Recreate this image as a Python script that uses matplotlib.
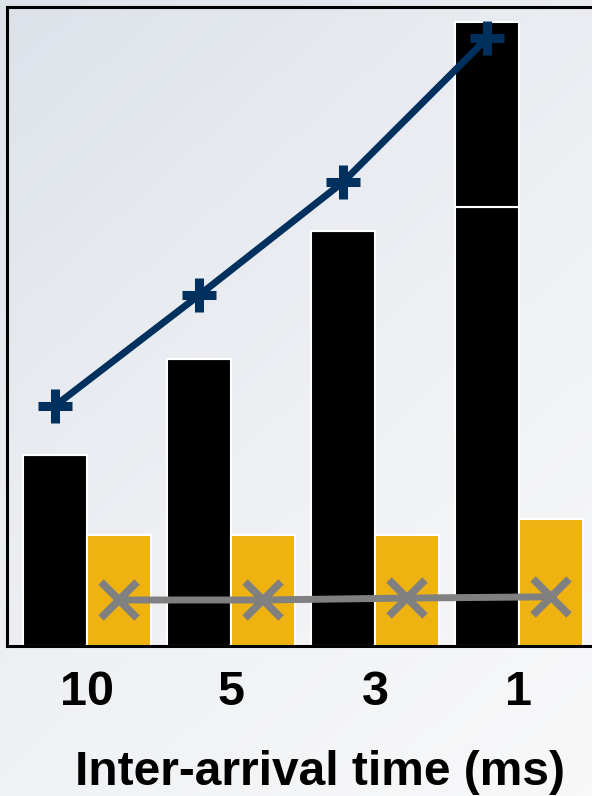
import matplotlib.pyplot as plt
import numpy as np
from matplotlib.colors import LinearSegmentedColormap

plt.rcParams['font.family'] = ['Liberation Sans', 'DejaVu Sans']

# Inter-arrival time groups
categories = ['10', '5', '3', '1']

# Bar heights (black bars, last one stacked in two parts)
black_base = [29.9, 44.9, 64.9, 68.7]
black_top = [0.0, 0.0, 0.0, 29.0]
yellow_vals = [17.4, 17.4, 17.4, 19.9]

# Line series
blue_line = [37.6, 54.9, 72.6, 95.1]
gray_line = [7.2, 7.2, 7.5, 7.7]

fig = plt.figure(figsize=(5.92, 7.96), dpi=100)

# soft gradient background across the whole figure
bg = fig.add_axes([0, 0, 1, 1], zorder=-10)
gx, gy = np.meshgrid(np.linspace(0, 1, 200), np.linspace(0, 1, 200))
grad = np.clip(0.6 * gy + 0.4 * (1 - gx), 0, 1) ** 1.3
cmap = LinearSegmentedColormap.from_list('bg', ['#f8f8f9', '#dde2ea'])
bg.imshow(grad, cmap=cmap, aspect='auto', extent=[0, 1, 0, 1], origin='lower')
bg.axis('off')

ax = fig.add_axes([7 / 592, 150 / 796, 592 / 592, 639 / 796])
ax.patch.set_alpha(0)

x = np.arange(len(categories))
w = 0.444

ax.bar(x - w / 2, black_base, width=w, color='black', edgecolor='white', linewidth=1.5, zorder=2)
ax.bar(x - w / 2, black_top, width=w, bottom=black_base, color='black',
       edgecolor='white', linewidth=1.5, zorder=2)
ax.bar(x + w / 2, yellow_vals, width=w, color='#eeb211', edgecolor='white', linewidth=1.5, zorder=2)

ax.plot(x - w / 2, blue_line, color='#00305e', linewidth=5, marker='+',
        markersize=24, markeredgewidth=6.5, zorder=4)
ax.plot(x + w / 2, gray_line, color='#808080', linewidth=5, marker='x',
        markersize=26, markeredgewidth=5.5, zorder=4)

ax.set_xlim(-0.556, 3.556)
ax.set_ylim(0, 100)
ax.set_yticks([])
ax.set_xticks(x)
ax.set_xticklabels(categories, fontsize=35, fontweight='bold')
ax.tick_params(axis='x', length=0, pad=17)
ax.set_xlabel('Inter-arrival time (ms)', fontsize=34.5, fontweight='bold')
ax.xaxis.set_label_coords((320 - 7) / 592, -0.162)

for s in ['left', 'top', 'bottom', 'right']:
    ax.spines[s].set_linewidth(2.2)
    ax.spines[s].set_color('black')

fig.savefig('out.png', dpi=100)
